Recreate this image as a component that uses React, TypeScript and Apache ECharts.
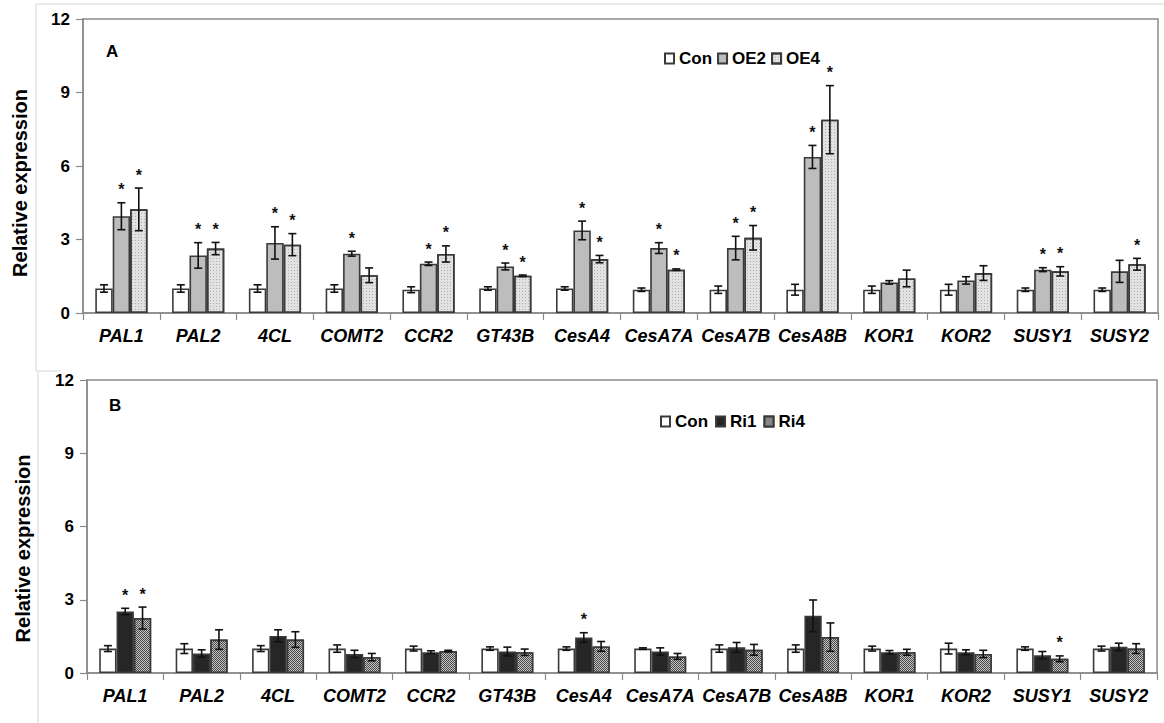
import React, { useEffect, useRef } from "react";
import * as echarts from "echarts";

const categories = ["PAL1", "PAL2", "4CL", "COMT2", "CCR2", "GT43B", "CesA4", "CesA7A", "CesA7B", "CesA8B", "KOR1", "KOR2", "SUSY1", "SUSY2"];
const yTicks = [0, 3, 6, 9, 12];

// Panel A (overexpression)
const conA = [1.0, 1.0, 1.0, 1.0, 0.95, 1.0, 1.0, 0.95, 0.95, 0.95, 0.95, 0.95, 0.95, 0.95];
const conAErr = [0.15, 0.15, 0.15, 0.15, 0.12, 0.07, 0.07, 0.07, 0.15, 0.22, 0.15, 0.22, 0.07, 0.07];
const oe2 = [3.95, 2.35, 2.86, 2.42, 2.01, 1.9, 3.37, 2.65, 2.65, 6.37, 1.25, 1.33, 1.77, 1.7];
const oe2Err = [0.55, 0.52, 0.66, 0.1, 0.07, 0.14, 0.38, 0.22, 0.48, 0.47, 0.07, 0.15, 0.08, 0.45];
const oe4 = [4.23, 2.63, 2.79, 1.54, 2.41, 1.52, 2.2, 1.77, 3.07, 7.89, 1.41, 1.63, 1.7, 1.99];
const oe4Err = [0.87, 0.25, 0.45, 0.3, 0.33, 0.03, 0.15, 0.03, 0.5, 1.39, 0.34, 0.3, 0.19, 0.24];
const conASig = [0, 0, 0, 0, 0, 0, 0, 0, 0, 0, 0, 0, 0, 0];
const oe2Sig = [1, 1, 1, 1, 1, 1, 1, 1, 1, 1, 0, 0, 1, 0];
const oe4Sig = [1, 1, 1, 0, 1, 1, 1, 1, 1, 1, 0, 0, 1, 1];

// Panel B (RNAi)
const conB = [1.0, 1.0, 1.0, 1.0, 1.0, 1.0, 1.0, 1.0, 1.0, 1.0, 1.0, 1.0, 1.0, 1.0];
const conBErr = [0.12, 0.2, 0.12, 0.15, 0.1, 0.07, 0.07, 0.03, 0.15, 0.15, 0.1, 0.22, 0.07, 0.1];
const ri1 = [2.52, 0.8, 1.52, 0.78, 0.85, 0.88, 1.45, 0.88, 1.05, 2.34, 0.85, 0.85, 0.73, 1.07];
const ri1Err = [0.13, 0.15, 0.25, 0.15, 0.06, 0.18, 0.2, 0.15, 0.2, 0.65, 0.07, 0.1, 0.15, 0.15];
const ri4 = [2.25, 1.37, 1.37, 0.65, 0.9, 0.85, 1.09, 0.68, 0.95, 1.47, 0.85, 0.78, 0.58, 1.0];
const ri4Err = [0.45, 0.4, 0.32, 0.15, 0.03, 0.13, 0.2, 0.12, 0.22, 0.58, 0.12, 0.15, 0.12, 0.2];
const conBSig = [0, 0, 0, 0, 0, 0, 0, 0, 0, 0, 0, 0, 0, 0];
const ri1Sig = [1, 0, 0, 0, 0, 0, 1, 0, 0, 0, 0, 0, 0, 0];
const ri4Sig = [1, 0, 0, 0, 0, 0, 0, 0, 0, 0, 0, 0, 1, 0];

const FONT = "'Liberation Sans', Arial, sans-serif";
const CAT_GAP = 0.32;

const styleCon = { color: "#ffffff", borderColor: "#3a3a3a", borderWidth: 1.6 };
const styleOE2 = { color: "#bdbdbd", borderColor: "#3a3a3a", borderWidth: 1.6 };
const styleOE4 = {
  color: "#e2e2e2",
  borderColor: "#3a3a3a",
  borderWidth: 1.6,
  decal: { symbol: "rect", symbolSize: 1, color: "#b0b0b0", dashArrayX: [1, 2], dashArrayY: [1, 2], rotation: 0 },
};
const styleRi1 = { color: "#262626", borderColor: "#3a3a3a", borderWidth: 1.6 };
const styleRi4 = {
  color: "#4a4a4a",
  borderColor: "#3a3a3a",
  borderWidth: 1.6,
  decal: { symbol: "rect", symbolSize: 1, color: "#c4c4c4", dashArrayX: [[1, 1], [0, 1, 1, 0]], dashArrayY: [1, 0], rotation: 0 },
};

function errSeries(vals: number[], errs: number[], sigs: number[], pos: number, gi: number) {
  return {
    type: "custom",
    xAxisIndex: gi,
    yAxisIndex: gi,
    silent: true,
    z: 5,
    data: vals.map((v, i) => [i, v, errs[i], sigs[i]]),
    renderItem: (params: any, api: any) => {
      const idx = api.value(0);
      const mean = api.value(1);
      const err = api.value(2);
      const sig = api.value(3);
      const band = api.size([1, 0])[0];
      const bw = (band * (1 - CAT_GAP)) / 3;
      const c = api.coord([idx, mean]);
      const x = c[0] + (pos - 1) * bw;
      const yHi = api.coord([idx, mean + err])[1];
      const yLo = api.coord([idx, mean - err])[1];
      const cap = 4;
      const ls = { stroke: "#111", lineWidth: 1.6 };
      const children: any[] = [
        { type: "line", shape: { x1: x, y1: yHi, x2: x, y2: yLo }, style: ls },
        { type: "line", shape: { x1: x - cap, y1: yHi, x2: x + cap, y2: yHi }, style: ls },
        { type: "line", shape: { x1: x - cap, y1: yLo, x2: x + cap, y2: yLo }, style: ls },
      ];
      if (sig) {
        children.push({
          type: "text",
          style: {
            x: x,
            y: yHi - 5,
            text: "*",
            fill: "#111",
            font: `bold 16px ${FONT}`,
            align: "center",
            verticalAlign: "bottom",
          },
        });
      }
      return { type: "group", children };
    },
  };
}

function barSeries(name: string, vals: number[], style: any, gi: number) {
  return {
    name,
    type: "bar",
    xAxisIndex: gi,
    yAxisIndex: gi,
    data: vals,
    barGap: "0%",
    barCategoryGap: `${CAT_GAP * 100}%`,
    itemStyle: style,
  };
}

function xAxis(gi: number) {
  return {
    type: "category",
    gridIndex: gi,
    data: categories,
    axisLine: { lineStyle: { color: "#8a8a8a", width: 1.5 } },
    axisTick: { show: true, interval: 0, length: 7, lineStyle: { color: "#8a8a8a", width: 1.2 } },
    axisLabel: {
      interval: 0,
      margin: 14,
      color: "#000",
      fontFamily: FONT,
      fontWeight: "bold",
      fontStyle: "italic",
      fontSize: 18,
    },
  };
}

function yAxis(gi: number, gap: number, shift: number) {
  return {
    type: "value",
    gridIndex: gi,
    min: yTicks[0],
    max: yTicks[yTicks.length - 1],
    interval: yTicks[1] - yTicks[0],
    name: "Relative expression",
    nameLocation: "middle",
    nameGap: gap,
    nameTextStyle: {
      color: "#000",
      fontFamily: FONT,
      fontWeight: "bold",
      fontSize: 20,
      padding: [0, shift, 0, 0],
    },
    splitLine: { show: false },
    axisLine: { show: true, lineStyle: { color: "#8a8a8a", width: 1.5 } },
    axisTick: { show: true, length: 7, lineStyle: { color: "#8a8a8a", width: 1.2 } },
    axisLabel: { color: "#000", fontFamily: FONT, fontWeight: "bold", fontSize: 17, margin: 13 },
  };
}

export default function App() {
  const ref = useRef<HTMLDivElement>(null);
  useEffect(() => {
    const chart = echarts.init(ref.current!, null, { renderer: "svg" });
    const legendText = { color: "#000", fontFamily: FONT, fontWeight: "bold", fontSize: 17 };
    chart.setOption({
      animation: false,
      backgroundColor: "#ffffff",
      grid: [
        { left: 83, top: 19, width: 1075, height: 294, show: true, borderColor: "#8a8a8a", borderWidth: 1.5 },
        { left: 87, top: 380, width: 1070, height: 293, show: true, borderColor: "#8a8a8a", borderWidth: 1.5 },
      ],
      xAxis: [xAxis(0), xAxis(1)],
      yAxis: [yAxis(0, 53, 34), yAxis(1, 54, 44)],
      legend: [
        {
          left: 659,
          top: 45,
          data: ["Con", "OE2", "OE4"],
          icon: "rect",
          itemWidth: 9,
          itemHeight: 10,
          itemGap: 5,
          textStyle: legendText,
          selectedMode: false,
        },
        {
          left: 655,
          top: 408,
          data: ["Con", "Ri1", "Ri4"],
          icon: "rect",
          itemWidth: 9,
          itemHeight: 10,
          itemGap: 7,
          textStyle: legendText,
          selectedMode: false,
        },
      ],
      graphic: [
        { type: "line", shape: { x1: 36, y1: 4, x2: 1164, y2: 4 }, style: { stroke: "#d4d4d4", lineWidth: 1 } },
        { type: "line", shape: { x1: 36, y1: 4, x2: 36, y2: 371 }, style: { stroke: "#d4d4d4", lineWidth: 1 } },
        { type: "line", shape: { x1: 36, y1: 371, x2: 60, y2: 371 }, style: { stroke: "#d4d4d4", lineWidth: 1 } },
        { type: "line", shape: { x1: 38, y1: 372, x2: 38, y2: 723 }, style: { stroke: "#d4d4d4", lineWidth: 1 } },
        { type: "text", left: 106, top: 43, style: { text: "A", font: `bold 17px ${FONT}`, fill: "#000" } },
        { type: "text", left: 109, top: 397, style: { text: "B", font: `bold 17px ${FONT}`, fill: "#000" } },
      ],
      series: [
        barSeries("Con", conA, styleCon, 0),
        barSeries("OE2", oe2, styleOE2, 0),
        barSeries("OE4", oe4, styleOE4, 0),
        errSeries(conA, conAErr, conASig, 0, 0),
        errSeries(oe2, oe2Err, oe2Sig, 1, 0),
        errSeries(oe4, oe4Err, oe4Sig, 2, 0),
        barSeries("Con", conB, styleCon, 1),
        barSeries("Ri1", ri1, styleRi1, 1),
        barSeries("Ri4", ri4, styleRi4, 1),
        errSeries(conB, conBErr, conBSig, 0, 1),
        errSeries(ri1, ri1Err, ri1Sig, 1, 1),
        errSeries(ri4, ri4Err, ri4Sig, 2, 1),
      ],
    });
    return () => chart.dispose();
  }, []);
  return (
    <div
      ref={ref}
      style={{ position: "fixed", left: 0, top: 0, width: 1164, height: 723, background: "#fff" }}
    />
  );
}
